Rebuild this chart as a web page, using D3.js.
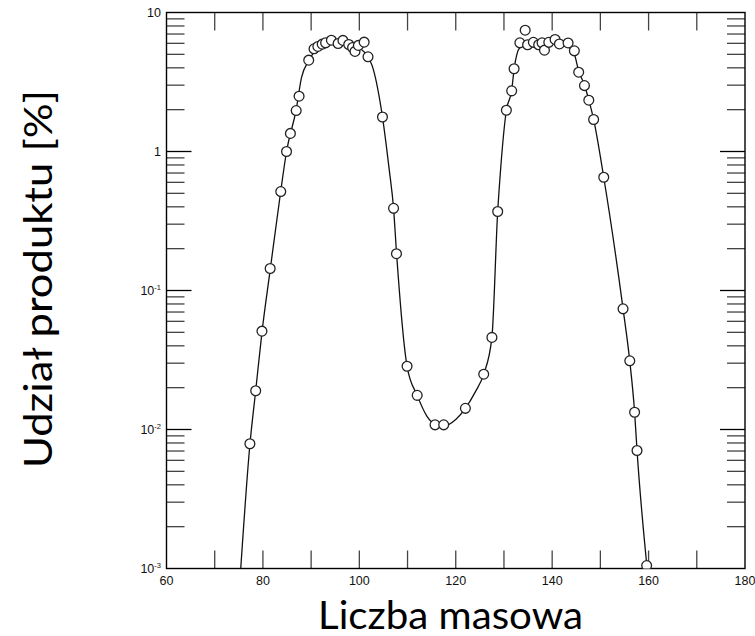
<!DOCTYPE html>
<html>
<head>
<meta charset="utf-8">
<script src="https://cdn.jsdelivr.net/npm/d3@7"></script>
<style>
  body { margin: 0; background: #fff; }
  svg { display: block; }
</style>
</head>
<body>
<svg id="chart"></svg>
<script>
// measured points (mass number, yield %)
const pointMass = [77.3, 78.5, 79.8, 81.5, 83.7, 84.9, 85.7, 86.9, 87.5, 89.5,
  90.6, 91.4, 92.3, 93.0, 94.2, 95.6, 96.6, 97.8, 98.6, 99.1, 99.8, 101.0, 101.8,
  104.8, 107.1, 107.7, 109.9, 112.0, 115.7, 117.5, 122.0, 125.8, 127.5, 128.7,
  130.5, 131.6, 132.1, 133.3, 134.4, 134.9, 136.1, 137.2, 137.9, 138.4, 139.3,
  140.6, 141.5, 143.3, 144.6, 145.5, 146.7, 147.6, 148.6, 150.7, 154.7, 156.1,
  157.1, 157.6, 159.6];
const pointYield = [0.0079, 0.019, 0.051, 0.144, 0.515, 1.0, 1.35, 1.97, 2.5, 4.54,
  5.48, 5.7, 5.92, 6.05, 6.32, 5.98, 6.3, 5.89, 5.6, 5.25, 5.8, 6.12, 4.8,
  1.77, 0.39, 0.184, 0.0285, 0.0176, 0.0108, 0.0108, 0.0142, 0.025, 0.046, 0.37,
  1.98, 2.73, 3.94, 6.05, 7.46, 5.86, 6.1, 5.86, 6.05, 5.36, 6.1,
  6.4, 5.94, 6.04, 5.3, 3.72, 2.98, 2.34, 1.70, 0.653, 0.0738, 0.0312,
  0.0133, 0.00706, 0.00105];

// fitted curve
const fitMass = [75.4, 77.3, 78.5, 79.8, 81.5, 83.7, 84.9, 86.9, 88.0, 89.5, 91, 93,
  95, 97, 99, 101, 102.9, 104.8, 106.2, 107.1, 107.7, 109.9, 112, 114, 116, 117.5,
  120, 122, 124, 125.8, 127.5, 128.7, 129.3, 130.5, 131.6, 132.1, 133.3, 135, 137,
  139, 141, 143, 144.6, 145.5, 146.7, 147.6, 148.6, 150.7, 154.7, 156.1, 157.1,
  157.6, 159.7];
const fitYield = [0.001, 0.0078, 0.019, 0.05, 0.14, 0.52, 1.0, 2.0, 3.4, 4.5, 5.4, 5.95,
  6.15, 6.1, 5.8, 5.2, 3.9, 1.77, 0.74, 0.39, 0.19, 0.0285, 0.0176, 0.0125, 0.0108, 0.0106,
  0.0118, 0.0142, 0.0185, 0.025, 0.046, 0.37, 0.74, 1.98, 2.75, 3.9, 5.6, 6.0, 6.1,
  6.15, 6.1, 5.8, 5.0, 3.8, 3.0, 2.35, 1.7, 0.65, 0.074, 0.031, 0.0133,
  0.0071, 0.001];

const xTickLabels = [60, 80, 100, 120, 140, 160, 180];
const yDecades = [0.001, 0.01, 0.1, 1, 10];

const width = 755, height = 636;
const plotL = 166.5, plotR = 745, plotT = 12.5, plotB = 568.5;

const svg = d3.select("#chart").attr("width", width).attr("height", height);

const x = d3.scaleLinear().domain([60, 180]).range([plotL, plotR]);
const y = d3.scaleLog().domain([0.001, 10]).range([plotB, plotT]);

svg.append("defs").append("clipPath").attr("id", "plot")
  .append("rect").attr("x", plotL).attr("y", plotT)
  .attr("width", plotR - plotL).attr("height", plotB - plotT);

// ticks
const tickColor = "#444";
const ticks = svg.append("g").attr("stroke", tickColor).attr("stroke-width", 1.3);

d3.range(70, 180, 10).forEach(v => {
  ticks.append("line").attr("x1", x(v)).attr("x2", x(v)).attr("y1", plotB).attr("y2", plotB - 18);
  ticks.append("line").attr("x1", x(v)).attr("x2", x(v)).attr("y1", plotT).attr("y2", plotT + 18);
});

yDecades.slice(0, -1).forEach(d => {
  d3.range(2, 10).forEach(m => {
    const yy = y(d * m);
    ticks.append("line").attr("x1", plotL).attr("x2", plotL + 18).attr("y1", yy).attr("y2", yy);
    ticks.append("line").attr("x1", plotR).attr("x2", plotR - 18).attr("y1", yy).attr("y2", yy);
  });
});
yDecades.slice(1, -1).forEach(d => {
  ticks.append("line").attr("x1", plotL).attr("x2", plotL + 25).attr("y1", y(d)).attr("y2", y(d))
    .attr("stroke", "#000");
  ticks.append("line").attr("x1", plotR).attr("x2", plotR - 25).attr("y1", y(d)).attr("y2", y(d))
    .attr("stroke", "#000");
});

// frame
svg.append("rect")
  .attr("x", plotL).attr("y", plotT)
  .attr("width", plotR - plotL).attr("height", plotB - plotT)
  .attr("fill", "none").attr("stroke", "#000").attr("stroke-width", 1.4);

// tick labels
const tickFont = "'Liberation Sans', Arial, sans-serif";
svg.append("g").selectAll("text").data(xTickLabels).join("text")
  .attr("x", d => x(d)).attr("y", 585)
  .attr("text-anchor", "middle")
  .attr("font-family", tickFont).attr("font-size", 12.5)
  .attr("fill", "#111")
  .text(d => d);

const yLab = svg.append("g").attr("font-family", tickFont).attr("fill", "#111");
yDecades.forEach(d => {
  const exp = Math.round(Math.log10(d));
  const t = yLab.append("text")
    .attr("x", 161).attr("y", y(d) + 4.5)
    .attr("text-anchor", "end").attr("font-size", 12.5);
  if (exp === 0) t.text("1");
  else if (exp === 1) t.text("10");
  else {
    t.append("tspan").text("10");
    t.append("tspan").attr("font-size", 7.5).attr("dy", -5).text(exp);
  }
});

// fitted curve
const line = d3.line()
  .x((d, i) => x(fitMass[i]))
  .y((d, i) => y(fitYield[i]))
  .curve(d3.curveMonotoneX);

svg.append("path")
  .datum(fitMass)
  .attr("clip-path", "url(#plot)")
  .attr("d", line)
  .attr("fill", "none")
  .attr("stroke", "#111")
  .attr("stroke-width", 1.3);

// points
svg.append("g").attr("clip-path", "url(#plot)")
  .selectAll("circle").data(pointMass).join("circle")
  .attr("cx", d => x(d))
  .attr("cy", (d, i) => y(pointYield[i]))
  .attr("r", 4.9)
  .attr("fill", "#fff")
  .attr("stroke", "#222")
  .attr("stroke-width", 1.3);

// axis titles
const titleFont = "Lato, 'Open Sans', sans-serif";
svg.append("text")
  .attr("x", 450.5).attr("y", 629)
  .attr("text-anchor", "middle")
  .attr("font-family", titleFont).attr("font-size", 39)
  .attr("textLength", 265).attr("lengthAdjust", "spacingAndGlyphs")
  .text("Liczba masowa");

svg.append("text")
  .attr("transform", "translate(52,279) rotate(-90)")
  .attr("text-anchor", "middle")
  .attr("font-family", titleFont).attr("font-size", 39)
  .attr("textLength", 378).attr("lengthAdjust", "spacingAndGlyphs")
  .text("Udział produktu [%]");
</script>
</body>
</html>
